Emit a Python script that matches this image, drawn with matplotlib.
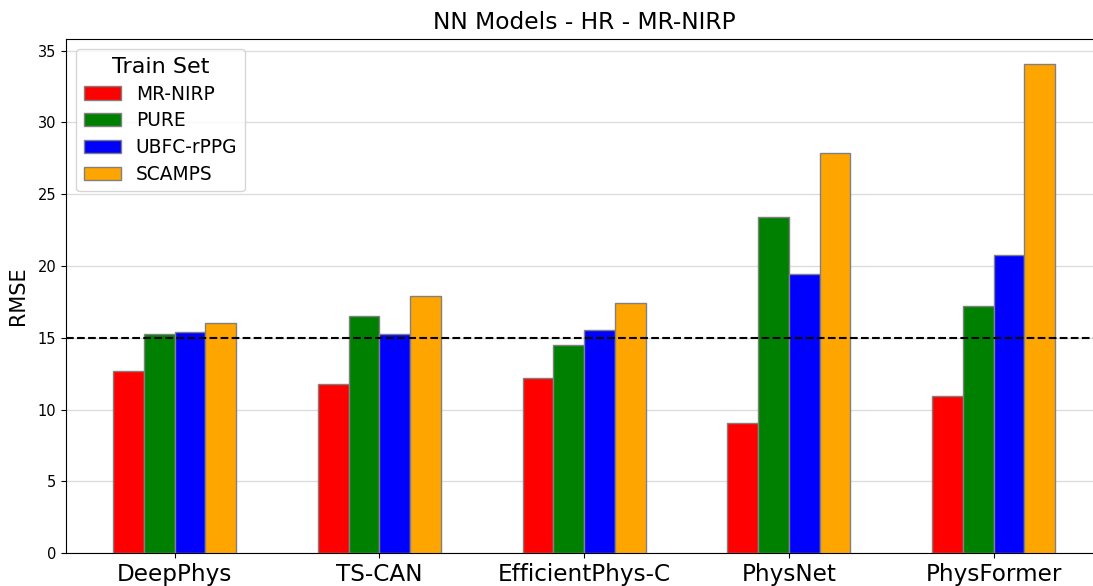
import matplotlib
matplotlib.use("Agg")
import matplotlib.pyplot as plt
import numpy as np

models = ["DeepPhys", "TS-CAN", "EfficientPhys-C", "PhysNet", "PhysFormer"]
train_sets = ["MR-NIRP", "PURE", "UBFC-rPPG", "SCAMPS"]
colors = ["red", "green", "blue", "orange"]

rmse_mr_nirp = [12.66, 11.76, 12.20, 9.05, 10.95]
rmse_pure = [15.30, 16.50, 14.52, 23.38, 17.25]
rmse_ubfc = [15.38, 15.30, 15.57, 19.48, 20.76]
rmse_scamps = [16.02, 17.88, 17.45, 27.84, 34.10]
baseline = 15.0

series = [rmse_mr_nirp, rmse_pure, rmse_ubfc, rmse_scamps]

fig = plt.figure(figsize=(10.93, 5.86), dpi=100)
ax = fig.add_axes([0.0604, 0.0558, 0.948, 0.8776])

x = np.arange(len(models))
w = 0.15
for i, (vals, name, c) in enumerate(zip(series, train_sets, colors)):
    ax.bar(x + (i - 1.5) * w, vals, w, color=c, edgecolor="grey",
           linewidth=1, label=name, zorder=3)

ax.axhline(baseline, color="black", linestyle="--", linewidth=1.5, zorder=4)

ax.set_xticks(x)
ax.set_xticklabels(models, fontsize=16.7)
ax.tick_params(axis="y", labelsize=10.5)
ax.set_ylabel("RMSE", fontsize=15, labelpad=7)
ax.set_title("NN Models - HR - MR-NIRP", fontsize=16.8, pad=7)
ax.yaxis.grid(True, color="#dddddd", linewidth=1)
ax.set_axisbelow(True)

leg = ax.legend(title="Train Set", fontsize=13.4, title_fontsize=16,
                loc="upper left", borderaxespad=0.55, labelspacing=0.42)

fig.savefig("out.png", dpi=100)
